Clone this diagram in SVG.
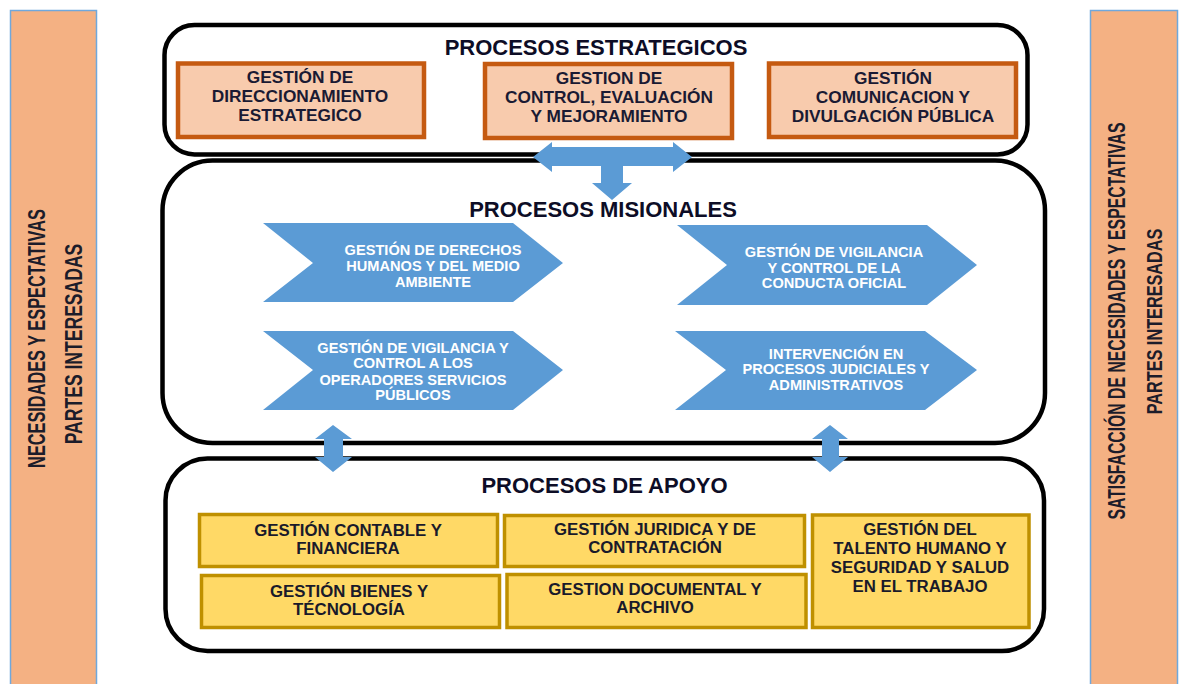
<svg xmlns="http://www.w3.org/2000/svg" width="1181" height="684" viewBox="0 0 1181 684">
<style>
.side{fill:#F4B183;stroke:#6FA8DC;stroke-width:1.5}
.sidetxt{font-family:"Liberation Sans",Arial,sans-serif;font-weight:bold;font-size:23px;fill:#1c1c2a;text-anchor:middle}
.group{fill:#fff;stroke:#000;stroke-width:4.5}
.title{font-family:"Liberation Sans",Arial,sans-serif;font-weight:bold;font-size:22px;fill:#0d0d26;text-anchor:middle}
.est{fill:#F8CBAD;stroke:#C55A11;stroke-width:4.5}
.esttxt{font-family:"Liberation Sans",Arial,sans-serif;font-weight:bold;font-size:17.3px;fill:#1a1a33;text-anchor:middle}
.mis{fill:#5B9BD5}
.mistxt{font-family:"Liberation Sans",Arial,sans-serif;font-weight:bold;font-size:14.6px;fill:#fff;text-anchor:middle}
.apo{fill:#FFD966;stroke:#BF9000;stroke-width:3.5}
.apotxt{font-family:"Liberation Sans",Arial,sans-serif;font-weight:bold;font-size:16.8px;fill:#1a1a2a;text-anchor:middle}
.conn{fill:#5B9BD5}
</style>

<g id="panel-izquierdo">
<rect class="side" x="10.5" y="10.5" width="86" height="680"/>
<text class="sidetxt" transform="translate(45,338.5) rotate(-90) scale(0.71,1)">NECESIDADES Y ESPECTATIVAS</text>
<text class="sidetxt" transform="translate(82,344) rotate(-90) scale(0.764,1)">PARTES INTERESADAS</text>
</g>

<g id="panel-derecho">
<rect class="side" x="1090.5" y="10.5" width="87" height="680"/>
<text class="sidetxt" transform="translate(1125,321) rotate(-90) scale(0.686,1)">SATISFACCIÓN DE NECESIDADES Y ESPECTATIVAS</text>
<text class="sidetxt" transform="translate(1162,321.5) rotate(-90) scale(0.707,1)">PARTES INTERESADAS</text>
</g>

<g id="procesos-estrategicos">
<rect class="group" x="164.5" y="25" width="863" height="129.5" rx="30" ry="30"/>
<text class="title" x="596" y="55">PROCESOS ESTRATEGICOS</text>
</g>

<g id="gestion-direccionamiento">
<rect class="est" x="178" y="63.5" width="246" height="73.5"/>
<text class="esttxt" x="300" y="83">GESTIÓN DE</text>
<text class="esttxt" x="300" y="102">DIRECCIONAMIENTO</text>
<text class="esttxt" x="300" y="121">ESTRATEGICO</text>
</g>

<g id="gestion-control">
<rect class="est" x="485" y="64" width="247" height="74"/>
<text class="esttxt" x="609" y="84">GESTION DE</text>
<text class="esttxt" x="609" y="103">CONTROL, EVALUACIÓN</text>
<text class="esttxt" x="609" y="122">Y MEJORAMIENTO</text>
</g>

<g id="gestion-comunicacion">
<rect class="est" x="769" y="63.5" width="247" height="73.5"/>
<text class="esttxt" x="893" y="84">GESTIÓN</text>
<text class="esttxt" x="893" y="103">COMUNICACION Y</text>
<text class="esttxt" x="893" y="122">DIVULGACIÓN PÚBLICA</text>
</g>

<g id="procesos-misionales">
<rect class="group" x="162.5" y="160.5" width="882.5" height="282.5" rx="50" ry="50"/>
<text class="title" x="603" y="217">PROCESOS MISIONALES</text>
</g>

<g id="derechos-humanos">
<polygon class="mis" points="263,223 513,223 563,263 513,302 263,302 313,263"/>
<text class="mistxt" x="433" y="255">GESTIÓN DE DERECHOS</text>
<text class="mistxt" x="433" y="271">HUMANOS Y DEL MEDIO</text>
<text class="mistxt" x="433" y="287">AMBIENTE</text>
</g>

<g id="vigilancia-conducta">
<polygon class="mis" points="677,225 927,225 977,265 927,305 677,305 727,265"/>
<text class="mistxt" x="834" y="257">GESTIÓN DE VIGILANCIA</text>
<text class="mistxt" x="834" y="273">Y CONTROL DE LA</text>
<text class="mistxt" x="834" y="288">CONDUCTA OFICIAL</text>
</g>

<g id="vigilancia-servicios">
<polygon class="mis" points="263,331 513,331 563,370 513,410 263,410 313,370"/>
<text class="mistxt" x="413" y="353">GESTIÓN DE VIGILANCIA Y</text>
<text class="mistxt" x="413" y="368">CONTROL A LOS</text>
<text class="mistxt" x="413" y="385">OPERADORES SERVICIOS</text>
<text class="mistxt" x="413" y="400">PÚBLICOS</text>
</g>

<g id="intervencion-procesos">
<polygon class="mis" points="675,331 925,331 977,370 925,410 675,410 726,370"/>
<text class="mistxt" x="836" y="359">INTERVENCIÓN EN</text>
<text class="mistxt" x="836" y="374">PROCESOS JUDICIALES Y</text>
<text class="mistxt" x="836" y="390">ADMINISTRATIVOS</text>
</g>

<g id="procesos-apoyo">
<rect class="group" x="165.5" y="458.5" width="878.5" height="192.5" rx="42" ry="42"/>
<text class="title" x="604.5" y="493">PROCESOS DE APOYO</text>
</g>

<g id="contable-financiera">
<rect class="apo" x="199.5" y="514.5" width="298" height="52"/>
<text class="apotxt" x="348" y="536">GESTIÓN CONTABLE Y</text>
<text class="apotxt" x="348" y="554">FINANCIERA</text>
</g>

<g id="bienes-tecnologia">
<rect class="apo" x="201.5" y="575.5" width="298" height="52"/>
<text class="apotxt" x="349" y="597">GESTIÓN BIENES Y</text>
<text class="apotxt" x="349" y="615">TÉCNOLOGÍA</text>
</g>

<g id="juridica-contratacion">
<rect class="apo" x="504.5" y="515.5" width="300" height="51"/>
<text class="apotxt" x="655" y="535">GESTIÓN JURIDICA Y DE</text>
<text class="apotxt" x="655" y="553">CONTRATACIÓN</text>
</g>

<g id="documental-archivo">
<rect class="apo" x="507" y="574.5" width="299" height="53"/>
<text class="apotxt" x="655" y="595">GESTION DOCUMENTAL Y</text>
<text class="apotxt" x="655" y="613">ARCHIVO</text>
</g>

<g id="talento-humano">
<rect class="apo" x="812.5" y="515" width="216.5" height="112.5"/>
<text class="apotxt" x="920" y="535">GESTIÓN DEL</text>
<text class="apotxt" x="920" y="554">TALENTO HUMANO Y</text>
<text class="apotxt" x="920" y="573">SEGURIDAD Y SALUD</text>
<text class="apotxt" x="920" y="592">EN EL TRABAJO</text>
</g>

<g id="conectores">
<polygon class="conn" points="533,157 552,142 552,147 673,147 673,142 692,157 673,172 673,166 623,166 623,183 632,183 612,200 592,183 601,183 601,166 552,166 552,172"/>
<polygon class="conn" points="333,425 352,439 343,439 343,457 352,457 333,472 315,457 324,457 324,439 315,439"/>
<polygon class="conn" points="830,425 848,439 839,439 839,457 848,457 830,472 812,457 822,457 822,439 812,439"/>
</g>
</svg>
